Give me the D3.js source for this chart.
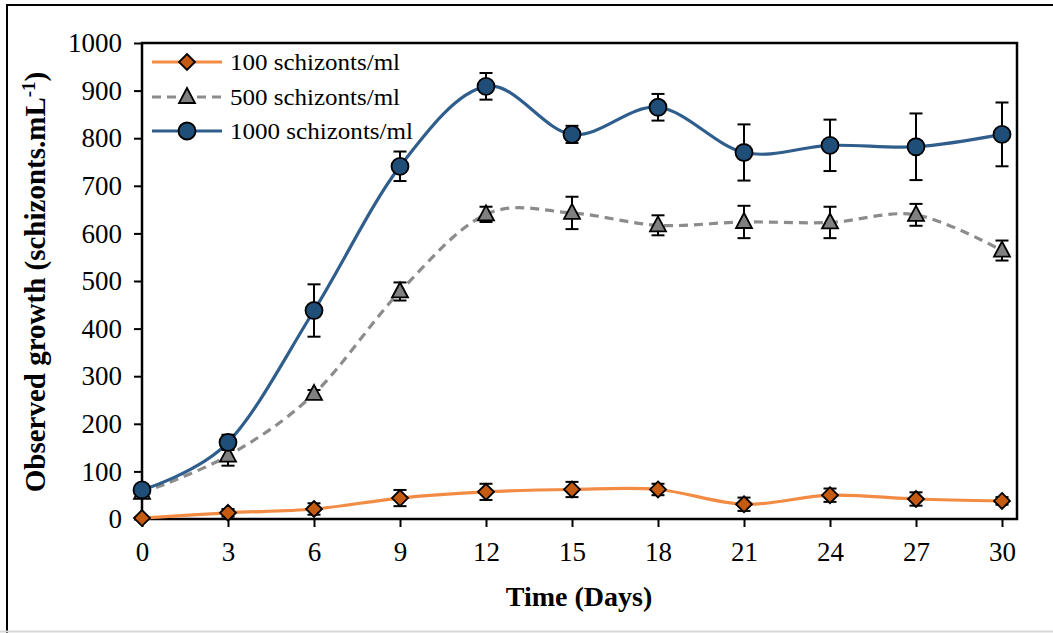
<!DOCTYPE html>
<meta charset="UTF-8">
<style>
  body { margin: 0; background: #fff; }
  svg text { font-family: "Liberation Serif", "Times New Roman", serif; fill: #000; }
  .tick text { font-size: 27px; }
  .axis path, .axis line { stroke: #000; stroke-width: 2px; }
  .errbar { stroke: #000; stroke-width: 2px; fill: none; }
</style>
<body>
<svg id="chart" width="1053" height="633"></svg>
<script src="https://cdnjs.cloudflare.com/ajax/libs/d3/7.8.5/d3.min.js"></script>
<script>

// data
var days = [0, 3, 6, 9, 12, 15, 18, 21, 24, 27, 30];
var s100 = [2, 13, 21, 44, 57, 62, 62, 31, 50, 42, 38];
var s100err = [0, 8, 12, 17, 17, 16, 12, 14, 14, 14, 8];
var s500 = [55, 133, 263, 478, 640, 643, 617, 624, 623, 639, 564];
var s500err = [8, 21, 8, 19, 16, 34, 21, 34, 33, 23, 21];
var s1000 = [61, 161, 438, 741, 909, 808, 865, 770, 785, 782, 808];
var s1000err = [8, 16, 55, 31, 28, 18, 28, 59, 54, 70, 67];
var yTicks = [0, 100, 200, 300, 400, 500, 600, 700, 800, 900, 1000];
var seriesNames = ["100 schizonts/ml", "500 schizonts/ml", "1000 schizonts/ml"];

var svg = d3.select("#chart");

// outer chart border (only top/left/bottom visible in the crop)
svg.append("path")
    .attr("d", "M 1053 5 L 7 5 L 7 640")
    .attr("fill", "none").attr("stroke", "#000").attr("stroke-width", 2);
svg.append("line")
    .attr("x1", 0).attr("x2", 1053).attr("y1", 631.5).attr("y2", 631.5)
    .attr("stroke", "#d8d8d8").attr("stroke-width", 2);

var plotL = 142, plotR = 1017, plotT = 43, plotB = 519;

var x = d3.scaleLinear().domain([0, 30]).range([plotL, 1002]);
var y = d3.scaleLinear().domain([0, 1000]).range([plotB, plotT]);

// plot frame
svg.append("rect")
    .attr("x", plotL).attr("y", plotT)
    .attr("width", plotR - plotL).attr("height", plotB - plotT)
    .attr("fill", "none").attr("stroke", "#000").attr("stroke-width", 2.5);

// axes
svg.append("g")
    .attr("class", "axis")
    .attr("transform", "translate(" + plotL + ",0)")
    .call(d3.axisLeft(y).tickValues(yTicks).tickFormat(d3.format("d"))
        .tickSize(8).tickPadding(12).tickSizeOuter(0))
    .call(function(g) { g.select(".domain").remove(); });

svg.append("g")
    .attr("class", "axis")
    .attr("transform", "translate(0," + plotB + ")")
    .call(d3.axisBottom(x).tickValues(days).tickSize(8).tickPadding(12).tickSizeOuter(0))
    .call(function(g) { g.select(".domain").remove(); })
    .selectAll("text").attr("dy", "0.8em");

// axis titles
svg.append("text")
    .attr("x", 579).attr("y", 606)
    .attr("text-anchor", "middle")
    .style("font-size", "28px").style("font-weight", "bold")
    .text("Time (Days)");

var yt = svg.append("text")
    .attr("transform", "translate(45,282) rotate(-90)")
    .attr("text-anchor", "middle")
    .style("font-size", "29px").style("font-weight", "bold");
yt.append("tspan").text("Observed growth (schizonts.mL");
yt.append("tspan").attr("dy", -10).style("font-size", "19px").text("-1");
yt.append("tspan").attr("dy", 10).text(")");

// smoothed lines like Excel
var line = d3.line()
    .x(function(d) { return x(d[0]); })
    .y(function(d) { return y(d[1]); })
    .curve(d3.curveCardinal.tension(0));

var series = [
  {name: seriesNames[0], vals: s100, err: s100err, color: "#F28C45", width: 3.2, dash: null, marker: "diamond", fill: "#C55A11"},
  {name: seriesNames[1], vals: s500, err: s500err, color: "#8C8C8C", width: 3.2, dash: "9,6", marker: "triangle", fill: "#808080"},
  {name: seriesNames[2], vals: s1000, err: s1000err, color: "#2F5E8C", width: 3.2, dash: null, marker: "circle", fill: "#1F4E79"}
];

function markerPath(type) {
  if (type === "diamond") return "M0,-8 L8,0 L0,8 L-8,0 Z";
  if (type === "triangle") return "M0,-9 L8,6 L-8,6 Z";
  return d3.symbol().type(d3.symbolCircle).size(Math.PI * 8.5 * 8.5)();
}

series.forEach(function(s) {
  var pts = days.map(function(d, i) { return [d, s.vals[i], s.err[i]]; });

  svg.append("path")
      .datum(pts)
      .attr("d", line)
      .attr("fill", "none")
      .attr("stroke", s.color)
      .attr("stroke-width", s.width)
      .attr("stroke-dasharray", s.dash);

  // error bars
  var eb = svg.append("g").selectAll("g")
      .data(pts.filter(function(p) { return p[2] > 0; }))
      .enter().append("g").attr("class", "errbar");
  eb.append("line")
      .attr("x1", function(p) { return x(p[0]); })
      .attr("x2", function(p) { return x(p[0]); })
      .attr("y1", function(p) { return y(p[1] + p[2]); })
      .attr("y2", function(p) { return y(p[1] - p[2]); });
  eb.append("line")
      .attr("x1", function(p) { return x(p[0]) - 6.5; })
      .attr("x2", function(p) { return x(p[0]) + 6.5; })
      .attr("y1", function(p) { return y(p[1] + p[2]); })
      .attr("y2", function(p) { return y(p[1] + p[2]); });
  eb.append("line")
      .attr("x1", function(p) { return x(p[0]) - 6.5; })
      .attr("x2", function(p) { return x(p[0]) + 6.5; })
      .attr("y1", function(p) { return y(p[1] - p[2]); })
      .attr("y2", function(p) { return y(p[1] - p[2]); });

  // markers
  svg.append("g").selectAll("path")
      .data(pts)
      .enter().append("path")
      .attr("d", markerPath(s.marker))
      .attr("transform", function(p) { return "translate(" + x(p[0]) + "," + y(p[1]) + ")"; })
      .attr("fill", s.fill)
      .attr("stroke", "#000")
      .attr("stroke-width", 1.8);
});

// legend
var legendY = [62, 97, 131];
var legendW = [170, 170, 183];
series.forEach(function(s, i) {
  var g = svg.append("g").attr("transform", "translate(0," + legendY[i] + ")");
  g.append("line")
      .attr("x1", 152).attr("x2", 222).attr("y1", 0).attr("y2", 0)
      .attr("stroke", s.color).attr("stroke-width", s.width)
      .attr("stroke-dasharray", s.dash);
  g.append("path")
      .attr("d", markerPath(s.marker))
      .attr("transform", "translate(187,0)")
      .attr("fill", s.fill).attr("stroke", "#000").attr("stroke-width", 1.8);
  g.append("text")
      .attr("x", 230).attr("y", 8)
      .style("font-size", "24px")
      .attr("textLength", legendW[i])
      .attr("lengthAdjust", "spacingAndGlyphs")
      .text(s.name);
});

</script>
</body>
